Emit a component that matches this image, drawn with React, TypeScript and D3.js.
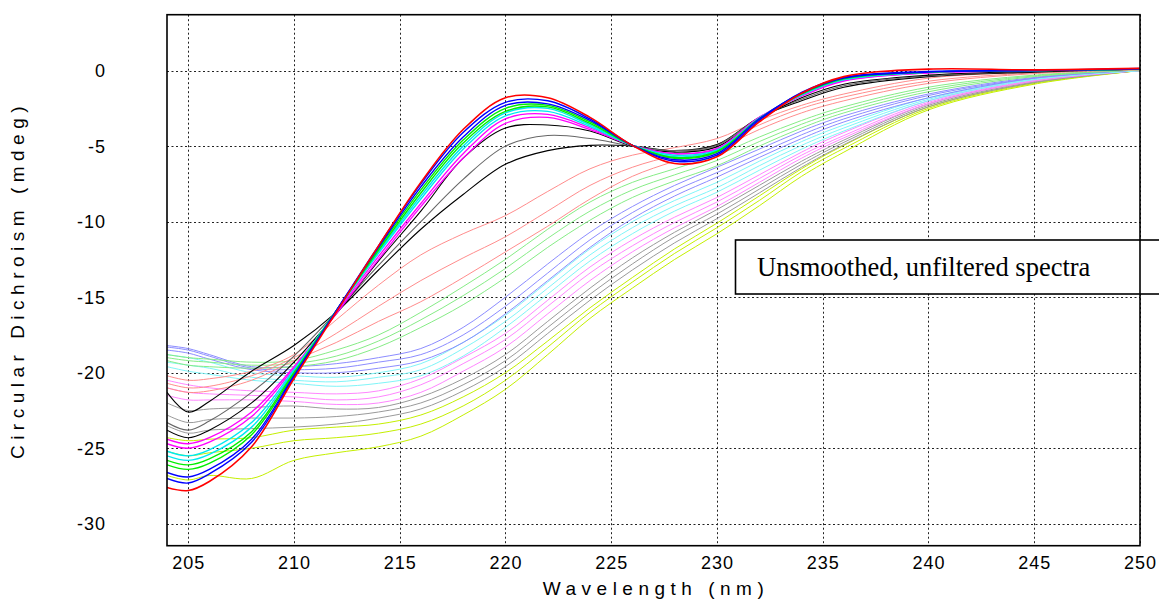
import React, { useRef, useEffect } from "react";
import * as d3 from "d3";

const WAVELENGTHS = [204, 205, 206, 208, 210, 212, 214, 216, 218, 220, 222, 224, 226, 228, 230, 232, 234, 236, 240, 245, 250];
const X_TICKS = [205, 210, 215, 220, 225, 230, 235, 240, 245, 250];
const Y_TICKS = [0, -5, -10, -15, -20, -25, -30];

// folded spectra (bold)
const redBold = [-27.6, -27.8, -27.2, -24.9, -20.4, -16.0, -11.6, -7.4, -3.9, -1.8, -1.8, -3.1, -4.95, -6.15, -5.7, -3.4, -1.5, -0.4, 0.1, 0.05, 0.15];
const blueBold1 = [-27.0, -27.3, -26.7, -24.6, -20.3, -15.9, -11.6, -7.5, -4.1, -2.1, -2.0, -3.2, -4.95, -6.0, -5.6, -3.3, -1.45, -0.45, -0.05, 0.0, 0.15];
const blueBold2 = [-26.6, -26.9, -26.4, -24.4, -20.2, -15.9, -11.7, -7.7, -4.4, -2.3, -2.2, -3.3, -4.95, -5.9, -5.5, -3.2, -1.5, -0.5, -0.1, 0.0, 0.1];
const greenBold1 = [-26.1, -26.4, -26.0, -24.1, -20.1, -15.9, -11.8, -7.9, -4.6, -2.5, -2.3, -3.4, -4.95, -5.8, -5.4, -3.2, -1.5, -0.5, -0.1, 0.0, 0.1];
const greenBold2 = [-25.8, -26.1, -25.7, -23.9, -20.0, -15.9, -11.9, -8.1, -4.8, -2.7, -2.4, -3.5, -4.95, -5.75, -5.35, -3.2, -1.55, -0.55, -0.1, 0.0, 0.1];
const cyanBold1 = [-25.5, -25.8, -25.4, -23.6, -19.9, -15.9, -12.0, -8.3, -5.0, -2.8, -2.5, -3.6, -4.95, -5.7, -5.3, -3.2, -1.6, -0.6, -0.1, 0.0, 0.1];
const cyanBold2 = [-25.2, -25.5, -25.1, -23.3, -19.8, -15.9, -12.1, -8.5, -5.2, -3.0, -2.7, -3.7, -4.95, -5.6, -5.25, -3.15, -1.6, -0.6, -0.1, 0.0, 0.1];
const magentaBold1 = [-24.7, -25.0, -24.6, -22.9, -19.7, -16.0, -12.3, -8.8, -5.5, -3.2, -2.9, -3.8, -4.95, -5.5, -5.2, -3.1, -1.6, -0.65, -0.15, 0.0, 0.1];
const magentaBold2 = [-24.4, -24.7, -24.3, -22.6, -19.6, -16.1, -12.5, -9.0, -5.8, -3.5, -3.1, -3.9, -4.95, -5.5, -5.15, -3.1, -1.7, -0.7, -0.15, 0.0, 0.1];

// transition spectra
const black1 = [-23.8, -24.3, -23.8, -22.0, -19.3, -16.1, -12.6, -9.3, -5.8, -3.8, -3.6, -4.0, -5.0, -5.4, -5.05, -3.2, -1.8, -0.9, -0.3, -0.05, 0.1];
const gray1 = [-23.3, -23.8, -23.2, -21.3, -18.9, -16.0, -12.9, -10.0, -7.2, -5.0, -4.3, -4.5, -5.0, -5.3, -4.95, -3.1, -1.9, -1.0, -0.35, -0.05, 0.1];
const black2 = [-21.3, -22.6, -21.9, -19.9, -18.2, -16.0, -13.2, -10.5, -8.2, -6.2, -5.3, -4.95, -5.0, -5.3, -4.9, -3.1, -2.0, -1.1, -0.4, -0.1, 0.1];

// unfolding spectra (light)
const redLightA = [-20.2, -20.5, -20.4, -19.9, -18.8, -16.5, -14.2, -12.2, -10.8, -9.6, -8.0, -6.5, -5.6, -5.1, -4.5, -3.3, -2.3, -1.55, -0.5, -0.1, 0.1];
const redLightB = [-20.7, -21.0, -20.9, -20.2, -19.0, -17.4, -15.6, -13.9, -12.4, -11.0, -9.3, -7.6, -6.4, -5.6, -4.9, -3.6, -2.5, -1.75, -0.7, -0.15, 0.1];
const redLightC = [-21.0, -21.3, -21.2, -20.5, -19.2, -18.0, -16.6, -15.3, -13.7, -12.0, -10.3, -8.5, -7.0, -6.0, -5.2, -3.9, -2.8, -2.0, -0.85, -0.2, 0.05];
const greenLightA = [-18.8, -19.0, -19.1, -19.3, -19.2, -18.5, -17.5, -16.0, -14.3, -12.5, -10.5, -8.7, -7.4, -6.5, -5.6, -4.4, -3.3, -2.4, -1.1, -0.3, 0.05];
const greenLightB = [-19.0, -19.2, -19.3, -19.5, -19.4, -18.9, -17.9, -16.5, -14.9, -13.1, -11.1, -9.3, -7.9, -6.9, -5.95, -4.7, -3.55, -2.6, -1.25, -0.35, 0.05];
const greenLightC = [-19.2, -19.5, -19.6, -19.7, -19.6, -19.2, -18.3, -17.0, -15.5, -13.7, -11.7, -9.9, -8.4, -7.3, -6.3, -5.0, -3.8, -2.8, -1.4, -0.4, 0.05];
const blueLightA = [-18.2, -18.4, -18.8, -19.6, -19.6, -19.4, -19.0, -18.4, -17.0, -15.0, -12.8, -10.7, -9.0, -7.6, -6.4, -5.2, -4.0, -3.0, -1.55, -0.45, 0.05];
const blueLightB = [-18.3, -18.5, -18.9, -19.7, -19.8, -19.7, -19.3, -18.8, -17.5, -15.6, -13.4, -11.2, -9.4, -7.95, -6.75, -5.5, -4.25, -3.2, -1.65, -0.5, 0.05];
const blueLightC = [-18.5, -18.7, -19.1, -19.8, -20.0, -20.0, -19.7, -19.2, -18.0, -16.1, -13.9, -11.7, -9.8, -8.3, -7.05, -5.75, -4.5, -3.4, -1.8, -0.5, 0.05];
const cyanLightA = [-18.8, -19.0, -19.3, -20.0, -20.2, -20.3, -20.0, -19.4, -18.0, -16.2, -14.0, -11.8, -10.0, -8.6, -7.4, -6.0, -4.7, -3.6, -1.8, -0.55, 0.0];
const cyanLightB = [-19.3, -19.5, -19.7, -20.3, -20.5, -20.6, -20.3, -19.8, -18.4, -16.6, -14.4, -12.2, -10.4, -8.95, -7.75, -6.3, -4.95, -3.8, -1.9, -0.55, 0.0];
const cyanLightC = [-19.6, -19.9, -20.1, -20.5, -20.7, -20.9, -20.7, -20.2, -18.9, -17.0, -14.8, -12.6, -10.8, -9.3, -8.05, -6.6, -5.2, -4.0, -2.0, -0.6, 0.0];
const magentaLightA = [-20.5, -20.8, -21.0, -21.2, -21.3, -21.4, -21.2, -20.4, -19.0, -17.4, -15.2, -13.0, -11.2, -9.7, -8.4, -6.9, -5.4, -4.1, -2.0, -0.6, 0.0];
const magentaLightB = [-21.0, -21.3, -21.4, -21.5, -21.6, -21.8, -21.6, -20.8, -19.4, -17.8, -15.6, -13.4, -11.6, -10.05, -8.7, -7.15, -5.6, -4.3, -2.1, -0.65, 0.0];
const magentaLightC = [-21.5, -21.8, -21.8, -21.8, -21.9, -22.1, -22.0, -21.3, -19.9, -18.3, -16.1, -13.9, -12.0, -10.4, -9.0, -7.4, -5.8, -4.45, -2.2, -0.7, 0.0];
const grayLightA = [-22.0, -22.5, -22.4, -22.3, -22.2, -22.4, -22.3, -21.6, -20.4, -18.8, -16.6, -14.4, -12.4, -10.7, -9.2, -7.6, -6.0, -4.6, -2.2, -0.7, 0.0];
const grayLightB = [-22.8, -23.3, -23.1, -23.0, -23.0, -22.9, -22.6, -22.0, -20.8, -19.2, -17.0, -14.8, -12.8, -11.0, -9.5, -7.85, -6.2, -4.75, -2.3, -0.75, 0.0];
const grayLightC = [-23.5, -24.0, -23.8, -23.7, -23.6, -23.4, -23.0, -22.4, -21.2, -19.6, -17.4, -15.2, -13.2, -11.4, -9.8, -8.1, -6.4, -4.9, -2.4, -0.8, 0.0];
const yellowA = [-24.3, -24.5, -24.4, -24.3, -23.8, -23.6, -23.4, -22.8, -21.6, -20.0, -17.9, -15.7, -13.7, -11.8, -10.1, -8.3, -6.5, -4.95, -2.4, -0.8, 0.0];
const yellowB = [-25.2, -25.5, -25.3, -25.0, -24.5, -24.3, -24.0, -23.4, -22.2, -20.5, -18.3, -16.0, -14.0, -12.1, -10.4, -8.6, -6.7, -5.15, -2.5, -0.85, 0.0];
const yellowC = [-26.8, -27.1, -26.8, -27.0, -25.8, -25.3, -24.9, -24.2, -22.8, -21.1, -18.8, -16.4, -14.4, -12.5, -10.8, -8.95, -7.0, -5.4, -2.6, -0.9, 0.0];

// draw order: most unfolded first, red folded spectrum last (on top)
const SPECTRA = [
  { id: "yellowC", values: yellowC, kind: "yellow" },
  { id: "yellowB", values: yellowB, kind: "yellow" },
  { id: "yellowA", values: yellowA, kind: "yellow" },
  { id: "grayLightC", values: grayLightC, kind: "grayLight" },
  { id: "grayLightB", values: grayLightB, kind: "grayLight" },
  { id: "grayLightA", values: grayLightA, kind: "grayLight" },
  { id: "magentaLightC", values: magentaLightC, kind: "magentaLight" },
  { id: "magentaLightB", values: magentaLightB, kind: "magentaLight" },
  { id: "magentaLightA", values: magentaLightA, kind: "magentaLight" },
  { id: "cyanLightC", values: cyanLightC, kind: "cyanLight" },
  { id: "cyanLightB", values: cyanLightB, kind: "cyanLight" },
  { id: "cyanLightA", values: cyanLightA, kind: "cyanLight" },
  { id: "blueLightC", values: blueLightC, kind: "blueLight" },
  { id: "blueLightB", values: blueLightB, kind: "blueLight" },
  { id: "blueLightA", values: blueLightA, kind: "blueLight" },
  { id: "greenLightC", values: greenLightC, kind: "greenLight" },
  { id: "greenLightB", values: greenLightB, kind: "greenLight" },
  { id: "greenLightA", values: greenLightA, kind: "greenLight" },
  { id: "redLightC", values: redLightC, kind: "redLight" },
  { id: "redLightB", values: redLightB, kind: "redLight" },
  { id: "redLightA", values: redLightA, kind: "redLight" },
  { id: "black2", values: black2, kind: "black" },
  { id: "gray1", values: gray1, kind: "gray" },
  { id: "black1", values: black1, kind: "black" },
  { id: "magentaBold2", values: magentaBold2, kind: "magenta" },
  { id: "magentaBold1", values: magentaBold1, kind: "magenta" },
  { id: "cyanBold2", values: cyanBold2, kind: "cyan" },
  { id: "cyanBold1", values: cyanBold1, kind: "cyan" },
  { id: "greenBold2", values: greenBold2, kind: "green" },
  { id: "greenBold1", values: greenBold1, kind: "green" },
  { id: "blueBold2", values: blueBold2, kind: "blue" },
  { id: "blueBold1", values: blueBold1, kind: "blue" },
  { id: "redBold", values: redBold, kind: "red" },
];

const STROKE: Record<string, { color: string; width: number }> = {
  red: { color: "#ff0000", width: 1.6 },
  blue: { color: "#0000ff", width: 1.4 },
  green: { color: "#00ee00", width: 1.4 },
  cyan: { color: "#00e8f0", width: 1.4 },
  magenta: { color: "#ff00ff", width: 1.3 },
  black: { color: "#000000", width: 1.1 },
  gray: { color: "#666666", width: 1.1 },
  redLight: { color: "#ff8c8c", width: 1 },
  greenLight: { color: "#86ec86", width: 1 },
  blueLight: { color: "#8c8cff", width: 1 },
  cyanLight: { color: "#7ff5f8", width: 1 },
  magentaLight: { color: "#ff86ff", width: 1 },
  grayLight: { color: "#9a9a9a", width: 1 },
  yellow: { color: "#c4ef00", width: 1 },
};

const WIDTH = 1159;
const HEIGHT = 601;
const PLOT = { left: 167, right: 1140, top: 14.7, bottom: 545.7 };

const CDChart = () => {
  const svgRef = useRef<SVGSVGElement>(null);

  useEffect(() => {
    const svg = d3.select(svgRef.current);
    svg.selectAll("*").remove();

    const x = d3.scaleLinear().domain([204, 250]).range([PLOT.left, PLOT.right]);
    const y = d3.scaleLinear().domain([3.7, -31.45]).range([PLOT.top, PLOT.bottom]);

    svg.append("defs").append("clipPath").attr("id", "plot-clip")
      .append("rect")
      .attr("x", PLOT.left).attr("y", PLOT.top)
      .attr("width", PLOT.right - PLOT.left).attr("height", PLOT.bottom - PLOT.top);

    // dotted grid
    const grid = svg.append("g").attr("stroke", "#222").attr("stroke-width", 1).attr("stroke-dasharray", "2,2.5");
    grid.selectAll(".vgrid").data(X_TICKS).enter().append("line")
      .attr("x1", (d) => Math.round(x(d)) + 0.5).attr("x2", (d) => Math.round(x(d)) + 0.5)
      .attr("y1", PLOT.top).attr("y2", PLOT.bottom);
    grid.selectAll(".hgrid").data(Y_TICKS).enter().append("line")
      .attr("y1", (d) => Math.round(y(d)) + 0.5).attr("y2", (d) => Math.round(y(d)) + 0.5)
      .attr("x1", PLOT.left).attr("x2", PLOT.right);

    const line = d3.line<number>()
      .x((d, i) => x(WAVELENGTHS[i]))
      .y((d) => y(d))
      .curve(d3.curveCatmullRom.alpha(0.5));

    svg.append("g").attr("clip-path", "url(#plot-clip)")
      .selectAll(".spectrum")
      .data(SPECTRA)
      .enter()
      .append("path")
      .attr("fill", "none")
      .attr("stroke", (d) => STROKE[d.kind].color)
      .attr("stroke-width", (d) => STROKE[d.kind].width)
      .attr("stroke-linejoin", "round")
      .attr("d", (d) => line(d.values));

    // annotation box, runs off the right side of the page
    svg.append("rect")
      .attr("x", 735.5).attr("y", 240)
      .attr("width", 440).attr("height", 54)
      .attr("fill", "#fff").attr("stroke", "#000").attr("stroke-width", 1.6);
    svg.append("text")
      .attr("x", 757).attr("y", 276)
      .attr("font-family", "'Liberation Serif', 'Times New Roman', serif")
      .attr("font-size", 26.5)
      .attr("fill", "#000")
      .text("Unsmoothed, unfiltered spectra");

    // frame
    svg.append("rect")
      .attr("x", PLOT.left).attr("y", PLOT.top)
      .attr("width", PLOT.right - PLOT.left).attr("height", PLOT.bottom - PLOT.top)
      .attr("fill", "none").attr("stroke", "#000").attr("stroke-width", 1.6);

    const font = "'Liberation Sans', Arial, sans-serif";

    svg.append("g").selectAll("text").data(X_TICKS).enter().append("text")
      .attr("x", (d) => x(d) + 0.5).attr("y", 569)
      .attr("text-anchor", "middle")
      .attr("font-family", font).attr("font-size", 18).attr("letter-spacing", 1)
      .text((d) => `${d}`);

    svg.append("g").selectAll("text").data(Y_TICKS).enter().append("text")
      .attr("x", 106).attr("y", (d) => y(d) + 6.5)
      .attr("text-anchor", "end")
      .attr("font-family", font).attr("font-size", 18).attr("letter-spacing", 1)
      .text((d) => `${d}`);

    svg.append("text")
      .attr("x", 656).attr("y", 595)
      .attr("text-anchor", "middle")
      .attr("font-family", font).attr("font-size", 19).attr("letter-spacing", 5.5)
      .text("Wavelength (nm)");

    svg.append("text")
      .attr("transform", "translate(24,280) rotate(-90)")
      .attr("text-anchor", "middle")
      .attr("font-family", font).attr("font-size", 19).attr("letter-spacing", 5.5)
      .text("Circular Dichroism (mdeg)");
  }, []);

  return (
    <svg
      ref={svgRef}
      width={WIDTH}
      height={HEIGHT}
      style={{ position: "absolute", left: 0, top: 0, background: "#fff" }}
    />
  );
};

export default function App() {
  return <CDChart />;
}
